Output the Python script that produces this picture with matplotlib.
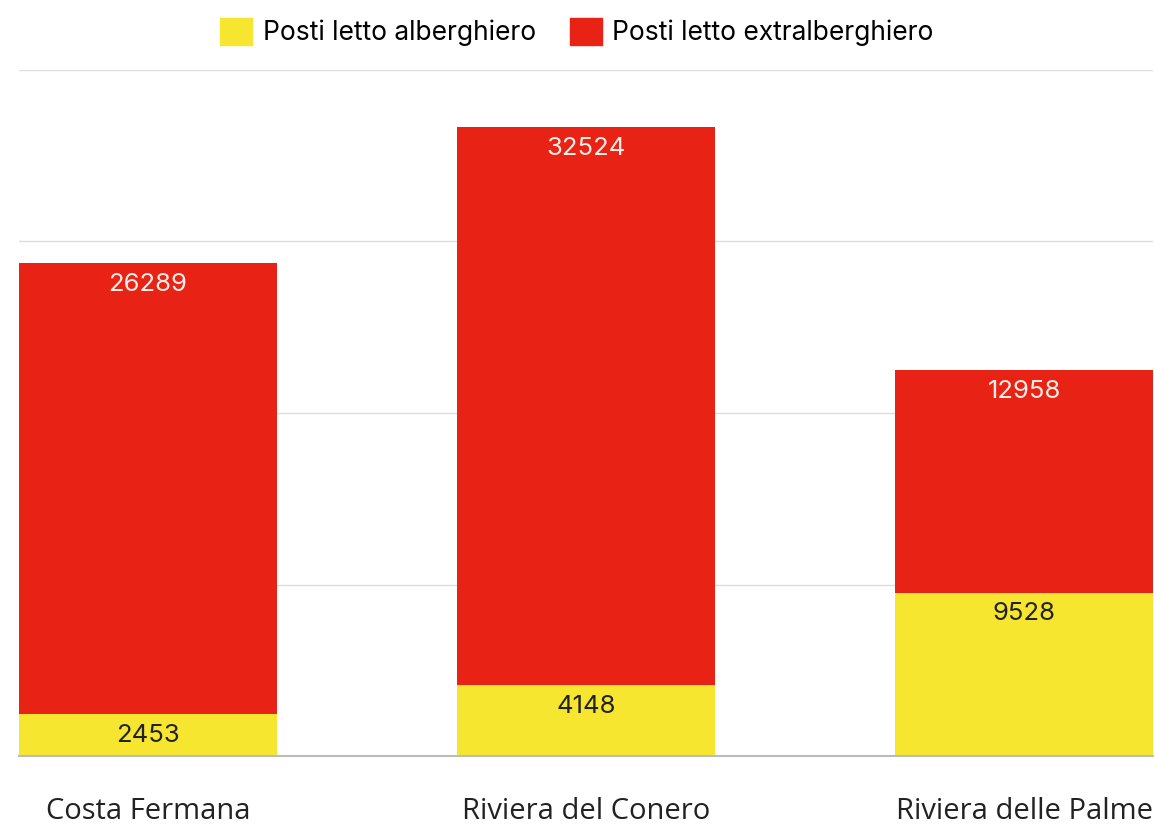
import matplotlib
matplotlib.use('Agg')
import matplotlib.pyplot as plt
from matplotlib.patches import Patch
from typing import List

categories: List[str] = ['Costa Fermana', 'Riviera del Conero', 'Riviera delle Palme']
alberghiero: List[int] = [2453, 4148, 9528]
extralberghiero: List[int] = [26289, 32524, 12958]
y_ticks: List[int] = [0, 10000, 20000, 30000, 40000]


def main():
    yellow: str = '#F7E630'
    red: str = '#E82214'
    num_font: str = 'Inter'
    cat_font: str = 'Open Sans'

    fig = plt.figure(figsize=(11.54, 8.25), dpi=100)
    ax = fig.add_axes([19 / 1154, 69 / 825, 1134 / 1154, 686 / 825])

    width: float = 0.589
    x = list(range(len(categories)))
    bars_a = ax.bar(x, alberghiero, width, color=yellow, zorder=3)
    bars_e = ax.bar(x, extralberghiero, width, bottom=alberghiero,
                    color=red, zorder=3)

    for bar, val in zip(bars_a, alberghiero):
        ax.annotate(str(val), (bar.get_x() + bar.get_width() / 2, bar.get_height()),
                    xytext=(0, -7), textcoords='offset points',
                    ha='center', va='top', fontsize=18.5, color='#222222',
                    family=num_font, zorder=4)
    for bar, val in zip(bars_e, extralberghiero):
        ax.annotate(str(val), (bar.get_x() + bar.get_width() / 2,
                               bar.get_y() + bar.get_height()),
                    xytext=(0, -7), textcoords='offset points',
                    ha='center', va='top', fontsize=18.5, color='#fbeee6',
                    family=num_font, zorder=4)

    ax.set_xlim(-width / 2, len(categories) - 1 + width / 2)
    ax.set_ylim(0, 40000)
    ax.set_yticks(y_ticks)
    ax.yaxis.grid(True, color='#dddddd', linewidth=1, zorder=0)
    ax.tick_params(axis='y', left=False, labelleft=False)
    ax.tick_params(axis='x', bottom=False, pad=26)
    ax.set_xticks(x)
    ax.set_xticklabels(categories, fontsize=21, family=cat_font, color='#222222')
    for side in ['left', 'right', 'top']:
        ax.spines[side].set_visible(False)
    ax.spines['bottom'].set_color('#bbbbbb')
    ax.spines['bottom'].set_linewidth(1.5)
    ax.spines['bottom'].set_zorder(5)

    handles = [Patch(color=yellow, label='Posti letto alberghiero'),
               Patch(color=red, label='Posti letto extralberghiero')]
    fig.legend(handles=handles, loc='center', bbox_to_anchor=(0.5, 1 - 32 / 825),
               ncol=2, frameon=False, prop={'family': num_font, 'size': 19},
               handlelength=1.2, handleheight=1.2, handletextpad=0.4,
               columnspacing=1.3)

    fig.savefig('out.png', dpi=100)


if __name__ == '__main__':
    main()
